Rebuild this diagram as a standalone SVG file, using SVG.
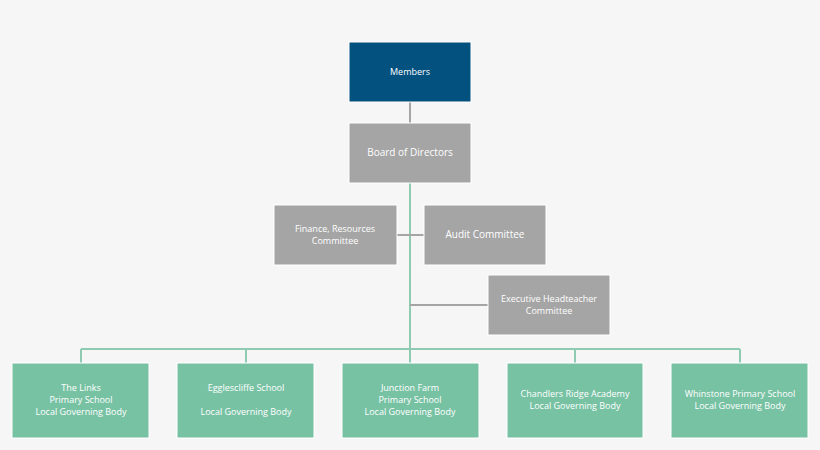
<svg xmlns="http://www.w3.org/2000/svg" width="820" height="450" viewBox="0 0 820 450">
<style>
text{font-family:"Open Sans","Liberation Sans",sans-serif;font-size:9px;fill:#fff;text-anchor:middle}
.g{fill:#a5a5a5;stroke:#fff;stroke-width:1}
.t{fill:#78c2a4;stroke:#fff;stroke-width:1}
.gl{stroke:#a5a5a5;stroke-width:2;fill:none}
.tl{stroke:#8fcbb3;stroke-width:2;fill:none}
</style>
<rect width="820" height="450" fill="#f6f6f6"/>
<g id="connectors">
<path class="gl" d="M410 102V123"/>
<path class="tl" d="M410 183V363M81 349H740M81 349V363M246 349V363M575 349V363M740 349V363"/>
<path class="gl" d="M397 235H424M410 305H488"/>
</g>
<g id="members"><rect x="349" y="42" width="122" height="60" fill="#03517f" stroke="#fff"/><text x="410" y="75" font-size="10">Members</text></g>
<g id="board"><rect class="g" x="349" y="123" width="122" height="60"/><text x="410" y="156" style="font-size:10px">Board of Directors</text></g>
<g id="finance"><rect class="g" x="274" y="205" width="123" height="60"/><text x="335" y="232">Finance, Resources</text><text x="335" y="244">Committee</text></g>
<g id="audit"><rect class="g" x="424" y="205" width="122" height="60"/><text x="485" y="238" style="font-size:10px">Audit Committee</text></g>
<g id="exec"><rect class="g" x="488" y="275" width="122" height="60"/><text x="549" y="302">Executive Headteacher</text><text x="549" y="314">Committee</text></g>
<g id="links"><rect class="t" x="12" y="363" width="137" height="75"/><text x="81" y="391">The Links</text><text x="81" y="403">Primary School</text><text x="81" y="415">Local Governing Body</text></g>
<g id="egg"><rect class="t" x="177" y="363" width="137" height="75"/><text x="246" y="391">Egglescliffe School</text><text x="246" y="415">Local Governing Body</text></g>
<g id="junction"><rect class="t" x="342" y="363" width="137" height="75"/><text x="410" y="391">Junction Farm</text><text x="410" y="403">Primary School</text><text x="410" y="415">Local Governing Body</text></g>
<g id="chandlers"><rect class="t" x="507" y="363" width="136" height="75"/><text x="575" y="397">Chandlers Ridge Academy</text><text x="575" y="409">Local Governing Body</text></g>
<g id="whinstone"><rect class="t" x="671" y="363" width="137" height="75"/><text x="740" y="397">Whinstone Primary School</text><text x="740" y="409">Local Governing Body</text></g>
</svg>
